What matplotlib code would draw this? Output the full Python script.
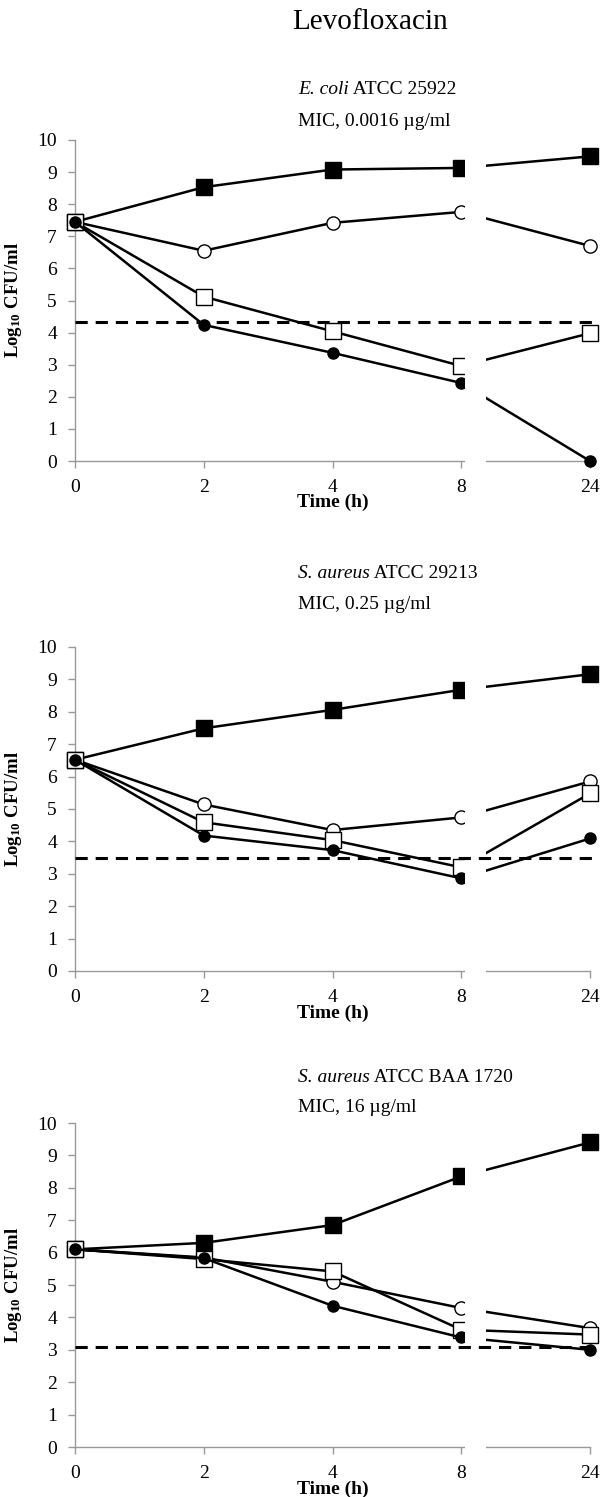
import matplotlib
matplotlib.use('Agg')
import matplotlib.pyplot as plt
from matplotlib.patches import Rectangle

plt.rcParams.update({
    'font.family': 'Liberation Serif',
    'mathtext.fontset': 'custom',
    'mathtext.rm': 'Liberation Serif',
    'mathtext.bf': 'Liberation Serif:bold',
    'mathtext.it': 'Liberation Serif:italic',
    'mathtext.default': 'bf',
})

# time points (h), plotted as evenly spaced categories
times = ["0", "2", "4", "8", "24"]

# panel 1: E. coli ATCC 25922
ecoli_growth = [7.45, 8.53, 9.08, 9.13, 9.49]
ecoli_open_circ = [7.45, 6.55, 7.42, 7.76, 6.70]
ecoli_open_sq = [7.45, 5.12, 4.04, 2.96, 3.98]
ecoli_fill_circ = [7.45, 4.24, 3.37, 2.43, 0.0]
ecoli_limit = 4.34

# panel 2: S. aureus ATCC 29213
sa_growth = [6.52, 7.49, 8.06, 8.68, 9.16]
sa_open_circ = [6.52, 5.14, 4.35, 4.74, 5.85]
sa_open_sq = [6.52, 4.59, 4.04, 3.20, 5.48]
sa_fill_circ = [6.52, 4.18, 3.73, 2.86, 4.09]
sa_limit = 3.50

# panel 3: S. aureus ATCC BAA 1720
mrsa_growth = [6.10, 6.30, 6.85, 8.35, 9.40]
mrsa_open_circ = [6.10, 5.85, 5.10, 4.29, 3.67]
mrsa_open_sq = [6.10, 5.80, 5.42, 3.62, 3.47]
mrsa_fill_circ = [6.10, 5.83, 4.36, 3.38, 3.00]
mrsa_limit = 3.08

panels = [
    ("E. coli", " ATCC 25922", "MIC, 0.0016 \u00b5g/ml",
     ecoli_growth, ecoli_open_circ, ecoli_open_sq, ecoli_fill_circ, ecoli_limit),
    ("S. aureus", " ATCC 29213", "MIC, 0.25 \u00b5g/ml",
     sa_growth, sa_open_circ, sa_open_sq, sa_fill_circ, sa_limit),
    ("S. aureus", " ATCC BAA 1720", "MIC, 16 \u00b5g/ml",
     mrsa_growth, mrsa_open_circ, mrsa_open_sq, mrsa_fill_circ, mrsa_limit),
]

W, H = 607, 1497
fig = plt.figure(figsize=(W / 100, H / 100), dpi=100)
renderer = fig.canvas.get_renderer()

# (y of value 10, y of value 0, subtitle line 1, subtitle line 2) in pixels
layout = [(140, 461, 90, 122), (647, 971, 573, 605), (1123, 1447, 1077, 1107)]
x0, x1 = 75, 590
grey = '#999999'
sub_fs = 14

fig.text(370 / W, 1 - 22 / H, "Levofloxacin", ha='center', va='center',
         fontsize=21)

for (sp, strain, mic, g, oc, osq, fc, lim), (ytop, ybot, s1, s2) in zip(panels, layout):
    ax = fig.add_axes([x0 / W, 1 - ybot / H, (x1 - x0) / W, (ybot - ytop) / H])
    xs = list(range(len(times)))
    lw = 1.8
    ax.plot(xs, g, '-s', color='black', lw=lw, ms=11, mfc='black', mec='black',
            zorder=3, clip_on=False)
    ax.plot(xs, oc, '-o', color='black', lw=lw, ms=9.5, mfc='white', mec='black',
            mew=1.0, zorder=3, clip_on=False)
    ax.plot(xs, osq, '-s', color='black', lw=lw, ms=11, mfc='white', mec='black',
            mew=1.0, zorder=3, clip_on=False)
    ax.plot(xs, fc, '-o', color='black', lw=lw, ms=8, mfc='black', mec='black',
            zorder=3, clip_on=False)
    # axis break between 8 h and 24 h
    ax.add_patch(Rectangle((3.03, -0.5), 0.16, 11.5, facecolor='white',
                           edgecolor='none', zorder=4, clip_on=False))
    ax.axhline(lim, color='black', lw=2.2, ls=(0, (4, 2.6)), zorder=5,
               clip_on=False, xmin=0, xmax=1.01)

    ax.set_xlim(0, 4)
    ax.set_ylim(0, 10)
    ax.set_xticks(xs)
    ax.set_xticklabels(times)
    ax.set_yticks(range(11))
    for s in ['top', 'right']:
        ax.spines[s].set_visible(False)
    for s in ['left', 'bottom']:
        ax.spines[s].set_color(grey)
        ax.spines[s].set_linewidth(1.0)
    ax.tick_params(axis='both', colors=grey, labelcolor='black', labelsize=14,
                   length=5, width=1.0, direction='out')
    ax.tick_params(axis='x', pad=8)
    ax.tick_params(axis='y', pad=8)

    ax.set_ylabel(r"Log$_{10}$ CFU/ml", fontsize=13.5, fontweight='bold')
    ax.yaxis.set_label_coords((24 - x0) / (x1 - x0), 0.5)
    ax.text(2, -1.3, "Time (h)", ha='center', va='center', fontsize=14,
            fontweight='bold', transform=ax.transData)

    # subtitle: italic species name followed by regular strain text
    t = fig.text(298 / W, 1 - s1 / H, sp, ha='left', va='center',
                 fontsize=sub_fs, style='italic')
    bb = t.get_window_extent(renderer)
    fig.text(bb.x1 / W, 1 - s1 / H, strain, ha='left', va='center',
             fontsize=sub_fs)
    fig.text(298 / W, 1 - s2 / H, mic, ha='left', va='center', fontsize=sub_fs)

fig.savefig('out.png', dpi=100)
